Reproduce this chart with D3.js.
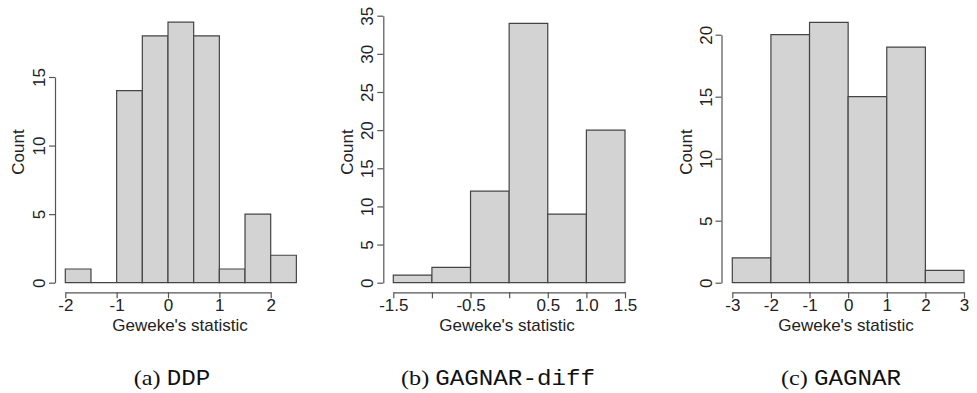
<!DOCTYPE html>
<html>
<head>
<meta charset="utf-8">
<style>
  body { margin: 0; background: #fff; }
  svg { display: block; }
  .lab { font-family: "Liberation Sans", Arial, Helvetica, sans-serif; font-size: 17px; fill: #222; }
</style>
<script src="https://cdn.jsdelivr.net/npm/d3@7/dist/d3.min.js"></script>
</head>
<body>
<svg id="chart" width="977" height="393"></svg>
<script>
// histogram breaks and counts
const ddpBreaks = [-2, -1.5, -1, -0.5, 0, 0.5, 1, 1.5, 2, 2.5];
const ddpCounts = [1, 0, 14, 18, 19, 18, 1, 5, 2];
const ddpXTicks = [-2, -1, 0, 1, 2];
const ddpXLabels = ["-2", "-1", "0", "1", "2"];
const ddpYTicks = [0, 5, 10, 15];

const diffBreaks = [-1.5, -1, -0.5, 0, 0.5, 1, 1.5];
const diffCounts = [1, 2, 12, 34, 9, 20];
const diffXTicks = [-1.5, -1, -0.5, 0, 0.5, 1, 1.5];
const diffXLabels = ["-1.5", "", "-0.5", "", "0.5", "1.0", "1.5"];
const diffYTicks = [0, 5, 10, 15, 20, 25, 30, 35];

const gagnarBreaks = [-3, -2, -1, 0, 1, 2, 3];
const gagnarCounts = [2, 20, 21, 15, 19, 1];
const gagnarXTicks = [-3, -2, -1, 0, 1, 2, 3];
const gagnarXLabels = ["-3", "-2", "-1", "0", "1", "2", "3"];
const gagnarYTicks = [0, 5, 10, 15, 20];

const xTitle = "Geweke's statistic";
const yTitle = "Count";

// panel layout (pixel boxes only)
const panels = [
  { breaks: ddpBreaks, counts: ddpCounts, xt: ddpXTicks, xl: ddpXLabels, yt: ddpYTicks,
    xr: [65.3, 270.7], yMaxPx: 77, axisX: 55, titleCx: 180, countX: 24,
    capCx: 172, capA: "(a)", capB: "DDP" },
  { breaks: diffBreaks, counts: diffCounts, xt: diffXTicks, xl: diffXLabels, yt: diffYTicks,
    xr: [393.3, 625], yMaxPx: 15.7, axisX: 383.3, titleCx: 507, countX: 353,
    capCx: 498, capA: "(b)", capB: "GAGNAR-diff" },
  { breaks: gagnarBreaks, counts: gagnarCounts, xt: gagnarXTicks, xl: gagnarXLabels, yt: gagnarYTicks,
    xr: [732.3, 964], yMaxPx: 34.7, axisX: 721.5, titleCx: 846, countX: 692,
    capCx: 841, capA: "(c)", capB: "GAGNAR" }
];

const svg = d3.select("#chart");
const y0px = 282.7, xAxisY = 292.3, tick = 6;

panels.forEach(p => {
  const g = svg.append("g");
  const x = d3.scaleLinear().domain([p.xt[0], p.xt[p.xt.length - 1]]).range(p.xr);
  const y = d3.scaleLinear().domain([0, p.yt[p.yt.length - 1]]).range([y0px, p.yMaxPx]);

  const bins = p.counts.map((c, i) => ({ a: p.breaks[i], b: p.breaks[i + 1], c: c }));

  // bars as paths so zero-count bins still show as a flat line
  g.selectAll("path.bar").data(bins).enter().append("path")
    .attr("class", "bar")
    .attr("d", d => {
      const pa = d3.path();
      pa.moveTo(x(d.a), y(0));
      pa.lineTo(x(d.b), y(0));
      pa.lineTo(x(d.b), y(d.c));
      pa.lineTo(x(d.a), y(d.c));
      pa.closePath();
      return pa.toString();
    })
    .attr("fill", "#d3d3d3")
    .attr("stroke", "#444")
    .attr("stroke-width", 1.2);

  // x axis
  const xa = g.append("g").attr("transform", "translate(0," + xAxisY + ")")
    .call(d3.axisBottom(x).tickValues(p.xt).tickFormat((d, i) => p.xl[i])
      .tickSizeInner(tick).tickSizeOuter(0).tickPadding(3));
  xa.select(".domain").attr("stroke", "#555").attr("stroke-width", 1.2);
  xa.selectAll(".tick line").attr("stroke", "#555").attr("stroke-width", 1.2);
  xa.selectAll(".tick text").attr("class", "lab").attr("fill", "#222").attr("dy", null).attr("y", 19.2);

  // y axis, labels rotated like R's default
  const ya = g.append("g").attr("transform", "translate(" + p.axisX + ",0)")
    .call(d3.axisLeft(y).tickValues(p.yt).tickFormat(d3.format("d"))
      .tickSizeInner(tick).tickSizeOuter(0));
  ya.select(".domain").attr("stroke", "#555").attr("stroke-width", 1.2);
  ya.selectAll(".tick line").attr("stroke", "#555").attr("stroke-width", 1.2);
  ya.selectAll(".tick text").attr("class", "lab").attr("fill", "#222")
    .attr("x", null).attr("dy", null)
    .attr("text-anchor", "middle")
    .attr("transform", "translate(-10,0) rotate(-90)");

  g.append("text").attr("class", "lab")
    .attr("x", p.titleCx).attr("y", 331)
    .attr("text-anchor", "middle").text(xTitle);

  g.append("text").attr("class", "lab")
    .attr("transform", "translate(" + p.countX + ",152) rotate(-90)")
    .attr("text-anchor", "middle").text(yTitle);

  // caption: serif label + typewriter name
  const cap = g.append("text")
    .attr("transform", "translate(" + p.capCx + ",385) scale(1.1,1)")
    .attr("text-anchor", "middle")
    .attr("font-size", 22).attr("fill", "#111");
  cap.append("tspan").attr("font-family", "'Liberation Serif', 'DejaVu Serif', serif").text(p.capA + " ");
  cap.append("tspan").attr("font-family", "'Liberation Mono', 'DejaVu Sans Mono', monospace").text(p.capB);
});
</script>
</body>
</html>
